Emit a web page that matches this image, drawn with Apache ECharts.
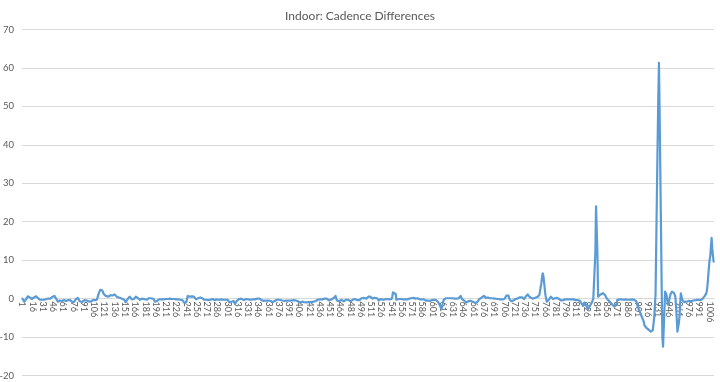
<!DOCTYPE html>
<html>
<head>
<meta charset="utf-8">
<script src="https://cdn.jsdelivr.net/npm/echarts@6/dist/echarts.min.js"></script>
<style>
html,body{margin:0;padding:0;background:#fff;}
#chart{width:720px;height:382px;}
</style>
</head>
<body>
<div id="chart"></div>
<script>
const chartTitle = "Indoor: Cadence Differences";
const yTicks = { min: -20, max: 70, step: 10 };
const labelEvery = 15;
// cadence difference per sample, samples 1..1012
const cadenceDiff = [
 0,0,-0.3,-0.8,-1.2,-0.6,0,0.3,0.6,0.7,
 0.8,0.3,0,-0.2,-0.1,0,0.2,0.3,0.4,0.5,
 0.6,0.6,0.3,0.1,0,-0.2,-0.3,-0.3,-0.2,-0.3,
 -0.3,-0.2,-0.3,-0.4,-0.2,-0.1,0,0.1,0,0.2,
 0.1,0,0.2,0.4,0.5,0.6,0.6,0.7,0.5,0.2,
 -0.2,-0.5,-0.8,-1,-0.7,-0.5,-0.4,-0.5,-0.6,-0.4,
 -0.5,-0.4,-0.3,-0.5,-0.6,-0.5,-0.3,-0.4,-0.6,-0.5,
 -0.4,-0.5,-0.7,-0.9,-1.1,-1.2,-0.8,-0.4,-0.2,0,
 0.1,0.2,0.2,-0.2,-0.7,-1,-1.2,-0.9,-0.6,-0.5,
 -0.5,-0.4,-0.5,-0.6,-0.5,-0.4,-0.5,-0.7,-0.9,-1,
 -0.8,-0.6,-0.5,-0.4,-0.5,-0.6,-0.4,-0.5,-0.6,-0.3,
 0.2,0.9,1.5,2,2.3,2.5,2.5,2.1,1.6,1.2,
 1,0.9,0.7,0.6,0.5,0.5,0.5,0.7,0.8,0.9,
 0.8,0.7,0.8,0.9,1,1.1,1.1,0.8,0.5,0.4,
 0.5,0.3,0.2,0.1,0.1,0,0,0,0,-0.3,
 -0.6,-0.9,-1,-0.6,-0.1,0.2,0.4,0.5,0.2,0,
 -0.2,-0.3,-0.3,-0.1,0.2,0.4,0.5,0.6,0.4,0.1,
 -0.1,-0.2,-0.3,-0.2,-0.1,0,0,0,-0.1,-0.2,
 -0.3,-0.3,-0.3,-0.1,0,0.1,0.2,0.2,0.1,0,
 -0.1,-0.1,-0.1,-0.4,-0.8,-1,-0.8,-0.6,-0.4,-0.3,
 -0.2,-0.2,-0.1,-0.2,-0.2,-0.3,-0.2,-0.1,-0.2,-0.2,
 -0.1,-0.2,-0.2,-0.1,0,-0.1,0,0.1,0,-0.1,
 -0.2,-0.2,-0.1,-0.2,-0.3,-0.2,-0.2,-0.3,-0.2,-0.1,
 -0.2,-0.3,-0.2,-0.3,-0.4,-0.5,-0.8,-1.1,-1.4,-1.6,
 -0.8,0.1,0.7,1,0.7,0.5,0.4,0.4,0.6,0.7,
 0.8,0.5,0.2,0,-0.2,-0.1,0,0.1,0.1,0.2,
 0.3,0.3,0.3,0.1,-0.1,-0.2,-0.3,-0.3,-0.2,-0.3,
 -0.2,-0.3,-0.4,-0.3,-0.2,-0.3,-0.3,-0.2,-0.1,-0.2,
 -0.3,-0.4,-0.3,-0.3,-0.2,-0.3,-0.4,-0.3,-0.2,-0.3,
 -0.3,-0.2,-0.3,-0.4,-0.3,-0.3,-0.2,-0.3,-0.3,-0.2,
 -0.3,-0.5,-0.8,-1,-1.1,-1.2,-0.8,-0.4,-0.3,-0.6,
 -1,-1.4,-1.6,-1,-0.5,-0.3,-0.2,-0.1,0,0,
 0,-0.1,-0.3,-0.3,-0.4,-0.3,-0.2,-0.1,0,-0.1,
 -0.2,-0.3,-0.3,-0.3,-0.2,-0.3,-0.3,-0.2,-0.3,-0.3,
 -0.2,-0.2,-0.1,-0.1,0,-0.1,-0.1,0,0,-0.2,
 -0.4,-0.5,-0.5,-0.6,-0.5,-0.4,-0.5,-0.5,-0.6,-0.5,
 -0.4,-0.5,-0.5,-0.6,-0.7,-0.8,-0.9,-1,-0.8,-0.6,
 -0.5,-0.4,-0.3,-0.3,-0.3,-0.3,-0.3,-0.3,-0.4,-0.4,
 -0.5,-0.4,-0.5,-0.5,-0.6,-0.5,-0.4,-0.5,-0.5,-0.6,
 -0.5,-0.5,-0.4,-0.5,-0.6,-0.5,-0.5,-0.4,-0.5,-0.5,
 -0.5,-0.6,-0.6,-0.7,-0.8,-0.9,-1,-0.8,-0.7,-0.8,
 -0.9,-0.9,-0.9,-0.8,-0.9,-0.9,-1,-0.9,-0.8,-0.9,
 -0.9,-0.8,-0.9,-1,-0.9,-0.9,-0.8,-0.9,-0.9,-0.6,
 -0.5,-0.4,-0.3,-0.3,-0.3,-0.2,-0.2,-0.1,-0.1,-0.2,
 -0.2,-0.1,0,0,0.1,0,0,-0.2,-0.4,-0.5,
 -0.5,-0.3,-0.1,0,0,0.1,0.3,0.5,0.7,0.1,
 -0.5,-0.9,-1,-0.7,-0.5,-0.3,-0.3,-0.3,-0.5,-0.6,
 -0.7,-0.7,-0.5,-0.3,-0.2,-0.1,-0.1,-0.3,-0.5,-0.6,
 -0.7,-0.7,-0.5,-0.3,-0.1,-0.1,-0.1,-0.2,-0.3,-0.3,
 -0.4,-0.5,-0.5,-0.4,-0.2,0,0.1,0.2,0.3,0.2,
 0.1,0,0,0,0.2,0.4,0.5,0.6,0.7,0.5,
 0.3,0.1,0,0,0.1,0.2,0.4,0.5,0.5,0.1,
 -0.3,-0.5,-0.3,-0.2,-0.1,-0.1,-0.2,-0.3,-0.3,-0.3,
 -0.2,-0.2,-0.1,-0.1,-0.1,-0.1,-0.1,-0.2,-0.1,-0.1,
 -0.1,0.5,1.6,1.8,1.9,1.9,1.2,-0.3,-0.3,-0.2,
 -0.2,-0.1,-0.2,-0.2,-0.1,-0.2,-0.3,-0.2,-0.2,-0.1,
 -0.2,-0.2,-0.1,-0.2,-0.2,-0.1,0,0.1,0.2,0.1,
 0,0.1,0.2,0.2,0.1,0,0.1,0.2,0.1,0,
 -0.1,-0.2,-0.2,-0.3,-0.2,-0.3,-0.3,-0.2,-0.3,-0.4,
 -0.5,-0.5,-0.6,-0.5,-0.4,-0.5,-0.6,-0.5,-0.5,-0.4,
 -0.3,-0.3,-0.3,-0.2,-0.3,-0.4,-0.5,-0.7,-0.9,-1.1,
 -1.4,-1.9,-2.4,-2.8,-2,-1.1,-0.4,-0.1,0,0.1,
 0.1,0.1,0.1,0.1,0.1,0,0.1,0.1,0,0.1,
 0.1,0.1,0,0,0.1,0,0,-0.1,0.1,0.4,
 0.6,0.7,0.3,-0.1,-0.2,-0.3,-0.5,-0.7,-0.9,-1,
 -1,-1,-1,-0.6,-0.5,-0.5,-0.6,-0.6,-0.7,-0.8,
 -0.9,-1,-1.1,-1.2,-1.3,-1,-0.7,-0.5,-0.2,0,
 0.1,0.1,0.3,0.5,0.6,0.7,0.5,0.3,0.2,0.2,
 0.2,0.3,0.2,0.2,0.1,0.2,0.2,0.1,0.2,0.1,
 0.1,0,0,-0.1,-0.1,-0.1,-0.2,-0.1,-0.1,-0.2,
 -0.1,-0.1,-0.2,-0.1,-0.1,-0.1,-0.1,0.3,0.8,1.1,
 1.2,0.8,0,-0.3,-0.5,-0.7,-0.8,-0.8,-0.5,-0.3,
 -0.2,-0.1,-0.2,-0.1,0,0.1,0.2,0.3,0.4,0.5,
 0.5,0.3,0.1,0,-0.1,0.2,0.5,0.8,1,1.1,
 1.2,0.8,0.4,0.2,0.1,0.1,0,0.1,0.2,0.2,
 0.2,0.2,0.3,0.4,0.6,0.7,0.9,1.8,3,4,
 5.5,6.6,5.9,4.3,2.5,0.9,0,-0.8,-1.2,-0.8,
 -0.3,0,0.2,0.5,0.3,0.1,-0.1,-0.1,0,0.1,
 0.1,0.1,0.2,0.2,0,-0.1,-0.2,-0.4,-0.5,-0.5,
 -0.5,-0.4,-0.3,-0.3,-0.2,-0.3,-0.3,-0.2,-0.3,-0.3,
 -0.2,-0.3,-0.3,-0.2,-0.3,-0.3,-0.2,-0.3,-0.3,-0.4,
 -0.3,-0.3,-0.4,-0.4,-0.4,-0.5,-0.8,-1,-1.3,-1.6,
 -1.9,-1.5,-1,-1,-1.3,-1.8,-2.3,-2.8,-2.6,-2.2,
 -1.8,-1.6,-1.5,-1,-0.5,0,0.5,0.5,12,24,
 24.3,12,0.5,0.6,0.8,1,1.2,1.4,1.4,1.4,
 1.4,1.4,1,0.5,0.2,0,-0.2,-0.4,-0.6,-0.8,
 -1,-1.2,-1.4,-1.6,-1.7,-1.9,-2.1,-2.3,-2.5,-1.4,
 -0.4,-0.4,-0.3,-0.2,-0.3,-0.4,-0.2,-0.3,-0.4,-0.3,
 -0.2,-0.3,-0.2,-0.1,-0.2,-0.3,-0.2,-0.2,-0.3,-0.3,
 -0.3,-0.3,-0.2,-0.3,-0.3,-0.3,-0.4,-0.5,-0.7,-1.2,
 -2.1,-2.6,-3,-3.4,-3.8,-4.3,-4.8,-5.2,-5.6,-6.2,
 -7,-7.3,-7.5,-7.7,-7.9,-8,-8.1,-8.3,-8.4,-8.6,
 -8.9,-8.7,-8.2,-7.7,-5,-2.1,1,14,27,40,
 52,61.3,48,33,18,3,-10,-12.5,-12.5,-3,
 1.8,1.5,1,0.7,-1.6,-1,-0.4,0.5,1.2,1.6,
 1.8,1.8,1.7,1.5,1.4,0.5,-2.1,-5,-8.6,-8.6,
 -6.5,-4.8,-1.5,1.4,1.4,-0.3,-0.7,-0.8,-0.9,-0.9,
 -0.9,-0.8,-0.7,-0.6,-0.6,-0.6,-0.7,-0.7,-0.7,-0.7,
 -0.6,-0.5,-0.5,-0.4,-0.4,-0.4,-0.3,-0.3,-0.3,-0.3,
 -0.4,-0.4,-0.4,-0.3,-0.2,0,0.2,0.5,0.7,1,
 1.3,2,3.5,5.7,8,10,11,13.5,15.8,13,
 11,9.6
];
// sample numbers 1..N used as category labels
const sampleNo = cadenceDiff.map((_, i) => String(i + 1));

const gridTop = 29.5, gridBottom = 6.5, chartH = 382;
const plotH = chartH - gridTop - gridBottom;
// shift the category axis up to the value-axis zero line
const zeroOffset = -plotH * (0 - yTicks.min) / (yTicks.max - yTicks.min);

const chart = echarts.init(document.getElementById('chart'), null, { renderer: 'canvas' });
chart.setOption({
  animation: false,
  backgroundColor: '#ffffff',
  title: {
    text: chartTitle,
    left: 'center',
    top: 5,
    textStyle: { fontFamily: 'Lato, "Open Sans", sans-serif', fontSize: 12, fontWeight: 'normal', color: '#595959' }
  },
  grid: { left: 22, right: 6, top: gridTop, bottom: gridBottom, containLabel: false, outerBoundsMode: 'none' },
  xAxis: {
    type: 'category',
    data: sampleNo,
    boundaryGap: true,
    offset: zeroOffset,
    axisLine: { show: true, onZero: false, lineStyle: { color: '#d9d9d9', width: 1 } },
    axisTick: { show: false },
    axisLabel: {
      interval: labelEvery - 1,
      rotate: -90,
      fontSize: 9,
      color: '#595959',
      margin: 3,
      fontFamily: 'Lato, "Open Sans", sans-serif'
    },
    splitLine: { show: false }
  },
  yAxis: {
    type: 'value',
    min: yTicks.min,
    max: yTicks.max,
    interval: yTicks.step,
    axisLine: { show: false },
    axisTick: { show: false },
    axisLabel: { fontSize: 9.5, color: '#595959', margin: 8, fontFamily: 'Lato, "Open Sans", sans-serif' },
    splitLine: { lineStyle: { color: '#d9d9d9', width: 1 } }
  },
  series: [{
    type: 'line',
    data: cadenceDiff,
    showSymbol: false,
    symbol: 'none',
    smooth: false,
    lineStyle: { color: '#5b9bd5', width: 2.2, join: 'round', cap: 'round' },
    itemStyle: { color: '#5b9bd5' }
  }]
});
</script>
</body>
</html>
